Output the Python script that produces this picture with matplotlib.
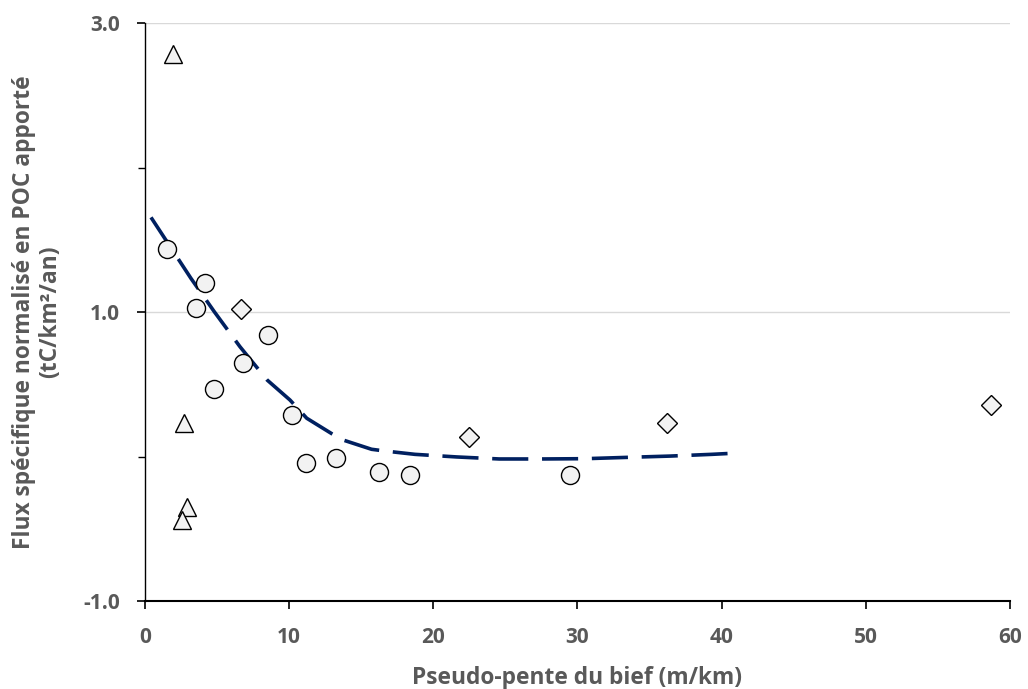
import matplotlib.pyplot as plt
from matplotlib.ticker import FixedLocator

# circles
circle_x = [1.53, 4.16, 3.54, 6.80, 8.53, 4.79, 10.2, 11.17, 13.25, 16.23, 18.38, 29.48]
circle_y = [1.436, 1.20, 1.028, 0.647, 0.841, 0.467, 0.287, -0.045, -0.010, -0.107, -0.128, -0.128]

# triangles
tri_x = [1.94, 2.68, 2.91, 2.55]
tri_y = [2.787, 0.233, -0.346, -0.437]

# diamonds
dia_x = [6.68, 22.47, 36.21, 58.70]
dia_y = [1.019, 0.137, 0.230, 0.359]

# trend curve
trend_x = [0.42, 3.19, 4.81, 6.59, 8.48, 10.06, 11.22, 12.99, 13.75, 15.72, 16.65,
           18.73, 21.62, 24.57, 27.52, 30.52, 33.41, 36.42, 39.31, 40.69]
trend_y = [1.655, 1.233, 1.002, 0.760, 0.529, 0.391, 0.265, 0.156, 0.114, 0.050, 0.038,
           0.015, -0.003, -0.017, -0.017, -0.015, -0.006, 0.003, 0.015, 0.022]

x_ticks = [0, 10, 20, 30, 40, 50, 60]
y_ticks = [-1.0, 1.0, 3.0]
y_minor = [0.0, 2.0]

grey = '#595959'
navy = '#002060'
fill = '#f2f2f2'

plt.rcParams['font.family'] = ['Open Sans', 'DejaVu Sans']

fig = plt.figure(figsize=(10.28, 6.89), dpi=100)
ax = fig.add_axes([0.141, 0.1277, 0.8415, 0.8389])

ax.plot(trend_x, trend_y, color=navy, lw=2.6, dashes=(10, 3.8), zorder=2)

ax.plot(circle_x, circle_y, 'o', ms=13, mfc=fill, mec='black', mew=1.0, zorder=3)
ax.plot(tri_x, tri_y, '^', ms=13.5, mfc=fill, mec='black', mew=1.0, zorder=3)
ax.plot(dia_x, dia_y, 'D', ms=10, mfc=fill, mec='black', mew=1.0, zorder=3)

ax.set_xlim(0, 60)
ax.set_ylim(-1, 3)
ax.set_xticks(x_ticks)
ax.set_yticks(y_ticks)
ax.set_yticklabels([f'{v:.1f}' for v in y_ticks])
ax.yaxis.set_minor_locator(FixedLocator(y_minor))

ax.grid(axis='y', which='major', color='#d9d9d9', lw=1.0, zorder=0)
ax.set_axisbelow(True)

for s in ['top', 'right']:
    ax.spines[s].set_visible(False)
ax.spines['left'].set_linewidth(1.0)
ax.spines['bottom'].set_linewidth(1.5)

ax.tick_params(axis='both', which='major', direction='out', length=6, width=1.2,
               labelsize=15, labelcolor=grey)
ax.tick_params(axis='x', which='major', pad=13)
ax.tick_params(axis='y', which='major', pad=12)
ax.tick_params(axis='y', which='minor', direction='out', length=5, width=1.0)
for lab in ax.get_xticklabels() + ax.get_yticklabels():
    lab.set_fontweight('bold')

ax.set_xlabel('Pseudo-pente du bief (m/km)', fontsize=16.4, fontweight='bold',
              color=grey, labelpad=13)
ax.set_ylabel('Flux spécifique normalisé en POC apporté\n(tC/km²/an)', fontsize=16.4,
              fontweight='bold', color=grey, labelpad=15, linespacing=1.15)

fig.savefig('out.png', dpi=100)
